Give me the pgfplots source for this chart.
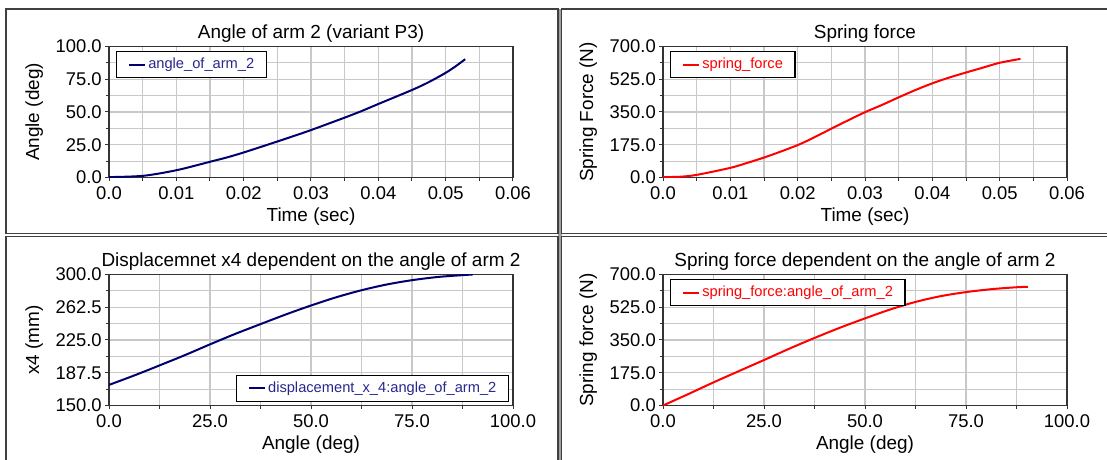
\documentclass[border=0pt]{standalone}
\usepackage{fontspec}
\setmainfont{Liberation Sans}
\usepackage{pgfplots}
\pgfplotsset{compat=1.18}
\definecolor{navyline}{RGB}{0,0,110}
\definecolor{navytext}{RGB}{40,40,140}
\definecolor{framec}{RGB}{64,64,64}
\definecolor{gridc}{RGB}{200,200,200}
\definecolor{redline}{RGB}{255,0,0}
\newcommand{\mainfs}{\fontsize{14.2}{17}\selectfont}
\newcommand{\tickfs}{\fontsize{13.8}{16}\selectfont}
\newcommand{\legfs}{\fontsize{11}{13}\selectfont}
\pgfplotsset{
  panel/.style={
    scale only axis, width=303pt, height=98.25pt,
    axis line style={draw=black!80, line width=0.9pt},
    grid=both,
    major grid style={draw=gridc, line width=0.8pt},
    minor grid style={draw=gridc, line width=0.8pt},
    minor x tick num=1, minor y tick num=1,
    tick align=outside,
    xtick pos=left, ytick pos=left,
    scaled ticks=false,
    major tick length=3pt, minor tick length=2.5pt,
    tick style={draw=black!80, line width=0.75pt},
    tick label style={font=\tickfs, text=black},
    xticklabel style={anchor=north, inner sep=0pt, yshift=-3.4pt},
    yticklabel style={anchor=east, inner sep=0pt, xshift=-2.25pt},
    every axis title shift=0pt,
    title style={font=\mainfs, at={(0.5,1)}, anchor=base, yshift=6pt, inner sep=0pt},
    xlabel style={font=\mainfs, at={(axis description cs:0.5,0)}, anchor=center, yshift=-29.5pt},
    ylabel style={font=\mainfs, at={(axis description cs:0,0.5)}, anchor=center, yshift=56pt},
    legend style={font=\legfs, draw=black, line width=0.9pt, fill=white,
      inner xsep=9pt, inner ysep=4.5pt, cells={anchor=west},
      nodes={inner sep=0pt, text height=8pt, text depth=2.5pt}},
    legend image code/.code={\draw[##1, line width=1.5pt] (0pt,0pt) -- (12pt,0pt);},
    every axis plot/.append style={line width=1.5pt, smooth},
  },
}
\pgfplotstableread{
t angle
0 0.3
0.0051 1.3
0.01006 5.6
0.0150 12.0
0.0175 15.3
0.0200 19.1
0.0249 27.3
0.0274 31.6
0.0300 36.2
0.0350 45.7
0.03755 50.8
0.0399 55.9
0.0450 66.8
0.04745 72.7
0.0499 79.6
0.05143 84.7
0.0529 90.3
}\angletab
\pgfplotstableread{
t force
0 2
0.0025 4
0.0050 14
0.0100 51.5
0.0125 78
0.0150 106.6
0.0176 140
0.0203 177.7
0.0226 217
0.0250 261
0.0275 305.6
0.0300 349
0.0326 389
0.0351 430
0.0376 469
0.0401 504.6
0.0425 534
0.0450 561
0.0476 588
0.0500 613
0.0531 634
}\forcetab
\pgfplotstableread{
a x
0 173.6
6.2 184.3
12.4 195.7
18.7 207.5
25 220
31.2 231.9
37.4 243
43.8 254.3
50 264.5
56.3 274
62.6 282.1
68.8 288.6
75 293.5
81.5 297.2
87.6 299.3
90 300
}\xtab
\pgfplotstableread{
a f
0 0
6.2 60.4
12.4 122.6
18.7 183
25 243
31.2 303
37.4 360
43.8 415.7
50 465.5
56.3 513.5
62.6 554
68.8 584.5
75 606
81.5 622
87.6 632
90.3 634
}\ftab
\begin{document}
\begin{tikzpicture}
\useasboundingbox (0pt,0pt) rectangle (830.25pt,345pt);
\fill[white] (0pt,0pt) rectangle (830.25pt,345pt);
\fill[gray!75] (418.5pt,-5pt) rectangle (421.125pt,338.25pt);
\draw[framec, line width=1.1pt] (4.5pt,338.25pt) rectangle (418.5pt,169.875pt);
\draw[framec, line width=1.1pt] (421.125pt,338.25pt) rectangle (840pt,169.875pt);
\draw[framec, line width=1.1pt] (4.5pt,167.625pt) rectangle (418.5pt,-5pt);
\draw[framec, line width=1.1pt] (421.125pt,167.625pt) rectangle (840pt,-5pt);

% Panel 1
\begin{axis}[panel, at={(81.75pt,211.875pt)}, anchor=south west,
  xmin=0, xmax=0.06, ymin=0, ymax=100,
  xtick={0,0.01,0.02,0.03,0.04,0.05,0.06},
  xticklabels={0.0,0.01,0.02,0.03,0.04,0.05,0.06},
  ytick={0,25,50,75,100},
  yticklabels={0.0,25.0,50.0,75.0,100.0},
  title={Angle of arm 2 (variant P3)},
  xlabel={Time (sec)}, ylabel={Angle (deg)},
  legend style={at={(0,1)}, anchor=north west, xshift=5pt, yshift=-3.4pt}]
\addplot[navyline] table[x=t, y=angle] {\angletab};
\addlegendentry{\hspace{1.5pt}\textcolor{navytext}{angle\_of\_arm\_2}\hspace{7.5pt}}
\end{axis}

% Panel 2
\begin{axis}[panel, at={(497.25pt,211.875pt)}, anchor=south west,
  xmin=0, xmax=0.06, ymin=0, ymax=700,
  xtick={0,0.01,0.02,0.03,0.04,0.05,0.06},
  xticklabels={0.0,0.01,0.02,0.03,0.04,0.05,0.06},
  ytick={0,175,350,525,700},
  yticklabels={0.0,175.0,350.0,525.0,700.0},
  title={Spring force},
  xlabel={Time (sec)}, ylabel={Spring Force (N)},
  legend style={at={(0,1)}, anchor=north west, xshift=5pt, yshift=-3.4pt}]
\addplot[redline] table[x=t, y=force] {\forcetab};
\addlegendentry{\hspace{1.5pt}\textcolor{redline}{spring\_force}\hspace{4.5pt}}
\end{axis}

% Panel 3
\begin{axis}[panel, at={(81.75pt,40.875pt)}, anchor=south west,
  xmin=0, xmax=100, ymin=150, ymax=300,
  xtick={0,25,50,75,100},
  xticklabels={0.0,25.0,50.0,75.0,100.0},
  ytick={150,187.5,225,262.5,300},
  yticklabels={150.0,187.5,225.0,262.5,300.0},
  title={Displacemnet x4 dependent on the angle of arm 2},
  xlabel={Angle (deg)}, ylabel={x4 (mm)},
  legend style={at={(1,0)}, anchor=south east, xshift=-3pt, yshift=2.6pt}]
\addplot[navyline] table[x=a, y=x] {\xtab};
\addlegendentry{\hspace{1.5pt}\textcolor{navytext}{displacement\_x\_4:angle\_of\_arm\_2}\hspace{15.75pt}}
\end{axis}

% Panel 4
\begin{axis}[panel, at={(497.25pt,40.875pt)}, anchor=south west,
  xmin=0, xmax=100, ymin=0, ymax=700,
  xtick={0,25,50,75,100},
  xticklabels={0.0,25.0,50.0,75.0,100.0},
  ytick={0,175,350,525,700},
  yticklabels={0.0,175.0,350.0,525.0,700.0},
  title={Spring force dependent on the angle of arm 2},
  xlabel={Angle (deg)}, ylabel={Spring force (N)},
  legend style={at={(0,1)}, anchor=north west, xshift=5pt, yshift=-3.4pt}]
\addplot[redline] table[x=a, y=f] {\ftab};
\addlegendentry{\hspace{1.5pt}\textcolor{redline}{spring\_force:angle\_of\_arm\_2}\hspace{15.75pt}}
\end{axis}
\end{tikzpicture}
\end{document}
